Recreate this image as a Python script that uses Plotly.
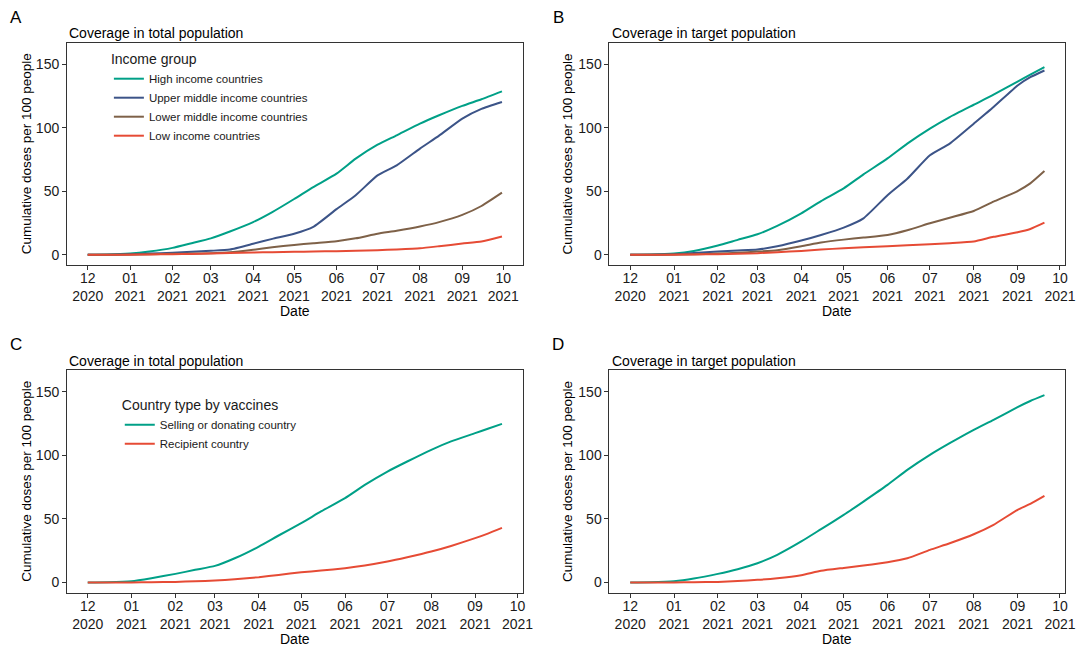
import plotly.graph_objects as go
import pandas as pd

# ---------------- data ----------------
dates_A = ["2020-12-01", "2020-12-15", "2021-01-01", "2021-01-15", "2021-02-01", "2021-02-15",
           "2021-03-01", "2021-03-15", "2021-04-01", "2021-04-15", "2021-05-01", "2021-05-15",
           "2021-06-01", "2021-06-15", "2021-07-01", "2021-07-15", "2021-08-01", "2021-08-15",
           "2021-09-01", "2021-09-15", "2021-09-30"]
dates_B = ["2020-12-01", "2020-12-15", "2021-01-01", "2021-01-15", "2021-02-01", "2021-02-15",
           "2021-03-01", "2021-03-15", "2021-04-01", "2021-04-15", "2021-05-01", "2021-05-15",
           "2021-06-01", "2021-06-15", "2021-07-01", "2021-07-15", "2021-08-01", "2021-08-15",
           "2021-09-01", "2021-09-10", "2021-09-20"]

income_groups = ["High income countries", "Upper middle income countries",
                 "Lower middle income countries", "Low income countries"]
vaccine_groups = ["Selling or donating country", "Recipient country"]

# Panel A: coverage in total population, by income group
A_high = [0, 0.2, 1.0, 2.6, 5.5, 9.2, 13.0, 18.4, 25.8, 33.7, 44.0, 53.4, 64.0, 75.8, 86.8, 94.2, 103.4, 110.0, 117.4, 122.6, 128.8]
A_upper = [0, 0.1, 0.5, 1.0, 1.6, 2.4, 3.2, 4.2, 8.7, 12.6, 16.6, 22.0, 36.0, 47.0, 62.6, 70.5, 83.7, 94.0, 107.4, 115.0, 120.5]
A_lower = [0, 0.05, 0.2, 0.5, 0.8, 1.0, 1.3, 2.0, 4.0, 6.0, 7.8, 9.2, 10.8, 13.0, 16.6, 19.0, 22.4, 25.8, 31.5, 38.5, 49.0]
A_low = [0, 0, 0.1, 0.3, 0.5, 0.7, 1.0, 1.4, 1.8, 2.1, 2.4, 2.6, 2.9, 3.2, 3.7, 4.3, 5.2, 6.8, 8.9, 10.5, 14.4]

# Panel B: coverage in target population, by income group
B_high = [0, 0.2, 1.0, 3.0, 7.3, 11.8, 16.2, 22.8, 32.7, 42.4, 52.4, 63.4, 76.0, 87.7, 99.5, 108.6, 118.3, 126.2, 136.6, 142.0, 148.0]
B_upper = [0, 0.1, 0.5, 1.4, 2.6, 3.4, 4.2, 6.8, 11.3, 15.7, 21.5, 28.8, 47.0, 60.0, 78.5, 87.7, 103.4, 116.5, 133.5, 140.0, 145.3]
B_lower = [0, 0.05, 0.2, 0.5, 1.0, 1.7, 2.6, 3.7, 6.8, 9.7, 12.0, 13.6, 15.7, 19.4, 24.9, 29.3, 34.6, 41.9, 50.3, 56.3, 66.0]
B_low = [0, 0, 0.1, 0.3, 0.5, 0.9, 1.3, 2.1, 3.1, 4.2, 5.2, 6.0, 6.8, 7.6, 8.4, 9.2, 10.5, 14.2, 17.8, 20.4, 25.4]

# Panel C: coverage in total population, by country type
C_sell = [0, 0.2, 1.0, 3.4, 6.8, 10.0, 13.1, 19.1, 28.3, 37.0, 46.7, 55.9, 66.4, 76.8, 87.3, 95.2, 104.4, 111.0, 117.5, 121.0, 124.8]
C_recip = [0, 0, 0.1, 0.3, 0.5, 1.0, 1.6, 2.6, 4.2, 6.0, 8.1, 9.4, 11.3, 13.4, 16.5, 19.9, 24.4, 28.8, 34.9, 38.5, 43.0]

# Panel D: coverage in target population, by country type
D_sell = [0, 0.2, 1.0, 3.1, 6.8, 10.5, 15.2, 21.8, 32.3, 42.0, 53.2, 63.7, 76.8, 88.6, 100.4, 109.6, 120.1, 128.0, 138.0, 142.8, 147.4]
D_recip = [0, 0, 0.1, 0.3, 0.5, 1.2, 2.1, 3.4, 5.8, 9.2, 11.5, 13.4, 16.0, 19.1, 25.7, 30.9, 38.0, 45.4, 57.2, 61.9, 68.2]

tick_dates = ["2020-12-01", "2021-01-01", "2021-02-01", "2021-03-01", "2021-04-01", "2021-05-01",
              "2021-06-01", "2021-07-01", "2021-08-01", "2021-09-01", "2021-10-01"]
tick_text = ["12<br>2020", "01<br>2021", "02<br>2021", "03<br>2021", "04<br>2021", "05<br>2021",
             "06<br>2021", "07<br>2021", "08<br>2021", "09<br>2021", "10<br>2021"]
y_ticks = [0, 50, 100, 150]

income_colors = ["#00A087", "#3C5488", "#7E6148", "#E64B35"]
vaccine_colors = ["#00A087", "#E64B35"]

# ---------------- layout helpers ----------------
W, H = 1091, 647
FONT = "Liberation Sans, Arial, sans-serif"

def px(v):
    return v / W

def py(v):
    return 1 - v / H

def xrange_for(dates):
    s, e = pd.Timestamp(dates[0]), pd.Timestamp(dates[-1])
    pad = (e - s) * 0.05
    return [(s - pad).strftime("%Y-%m-%d %H:%M"), (e + pad).strftime("%Y-%m-%d %H:%M")]

# box positions (pixels)
boxes = {
    "A": dict(x0=67.7, x1=528.0, y0=42.7, y1=265.0),
    "B": dict(x0=615.7, x1=1076.0, y0=42.7, y1=265.0),
    "C": dict(x0=67.7, x1=528.0, y0=370.0, y1=592.7),
    "D": dict(x0=615.7, x1=1076.0, y0=370.0, y1=592.7),
}

fig = go.Figure()

def add(ax, dates, ys, name, color, legend, show):
    fig.add_trace(go.Scatter(
        x=dates, y=ys, mode="lines", name=name,
        line=dict(color=color, width=2, shape="spline", smoothing=0.5),
        xaxis="x" + ax, yaxis="y" + ax,
        legend=legend, showlegend=show,
    ))

for name, ys, col in zip(income_groups, [A_high, A_upper, A_lower, A_low], income_colors):
    add("", dates_A, ys, name, col, "legend", True)
for name, ys, col in zip(income_groups, [B_high, B_upper, B_lower, B_low], income_colors):
    add("2", dates_B, ys, name, col, "legend", False)
for name, ys, col in zip(vaccine_groups, [C_sell, C_recip], vaccine_colors):
    add("3", dates_B, ys, name, col, "legend2", True)
for name, ys, col in zip(vaccine_groups, [D_sell, D_recip], vaccine_colors):
    add("4", dates_B, ys, name, col, "legend2", False)

axis_common = dict(
    showline=True, linecolor="#333333", linewidth=1, mirror=True,
    showgrid=False, zeroline=False,
    ticks="outside", ticklen=4, tickwidth=1, tickcolor="#333333",
    tickfont=dict(family=FONT, size=14, color="#1a1a1a"),
)

layout = dict(
    width=W, height=H, margin=dict(l=0, r=0, t=0, b=0),
    paper_bgcolor="white", plot_bgcolor="white",
    font=dict(family=FONT, color="#1a1a1a"),
)

panel_keys = ["A", "B", "C", "D"]
xr = {"A": xrange_for(dates_A), "B": xrange_for(dates_B), "C": xrange_for(dates_B), "D": xrange_for(dates_B)}
for i, k in enumerate(panel_keys):
    b = boxes[k]
    sfx = "" if i == 0 else str(i + 1)
    layout["xaxis" + sfx] = dict(
        axis_common, domain=[px(b["x0"]), px(b["x1"])], type="date",
        range=xr[k], tickmode="array", tickvals=tick_dates, ticktext=tick_text,
        anchor="y" + sfx, ticklabelstandoff=-4,
    )
    layout["yaxis" + sfx] = dict(
        axis_common, domain=[py(b["y1"]), py(b["y0"])], range=[-8, 167.2],
        tickmode="array", tickvals=y_ticks, ticktext=[str(v) for v in y_ticks],
        anchor="x" + sfx,
    )

layout["legend"] = dict(
    x=px(110), y=py(46), xanchor="left", yanchor="top",
    title=dict(text="Income group", font=dict(family=FONT, size=14, color="#1a1a1a")),
    font=dict(family=FONT, size=11.5, color="#1a1a1a"),
    bgcolor="rgba(0,0,0,0)", tracegroupgap=0,
)
layout["legend2"] = dict(
    x=px(121), y=py(392), xanchor="left", yanchor="top",
    title=dict(text="Country type by vaccines", font=dict(family=FONT, size=14, color="#1a1a1a")),
    font=dict(family=FONT, size=11.5, color="#1a1a1a"),
    bgcolor="rgba(0,0,0,0)", tracegroupgap=0,
)

fig.update_layout(**layout)

annotations = []
letters = {"A": (16, 17), "B": (564, 17), "C": (16, 344), "D": (564, 344)}
titles = {"A": "Coverage in total population", "B": "Coverage in target population",
          "C": "Coverage in total population", "D": "Coverage in target population"}
ytitle_x = {"A": 26.7, "B": 573.5, "C": 26.7, "D": 573.5}
for k in panel_keys:
    b = boxes[k]
    lx, ly = letters[k]
    annotations.append(dict(text=k, x=px(lx), y=py(ly), xref="paper", yref="paper",
                            xanchor="center", yanchor="middle", showarrow=False,
                            font=dict(family=FONT, size=17, color="#000000")))
    annotations.append(dict(text=titles[k], x=px(b["x0"] + 0.3), y=py(b["y0"] - 9.5),
                            xref="paper", yref="paper", xanchor="left", yanchor="middle",
                            showarrow=False, font=dict(family=FONT, size=14, color="#000000")))
    annotations.append(dict(text="Cumulative doses per 100 people", x=px(ytitle_x[k]),
                            y=py((b["y0"] + b["y1"]) / 2), xref="paper", yref="paper",
                            xanchor="center", yanchor="middle", textangle=-90, showarrow=False,
                            font=dict(family=FONT, size=13.5, color="#000000")))
    annotations.append(dict(text="Date", x=px((b["x0"] + b["x1"]) / 2), y=py(b["y1"] + 46),
                            xref="paper", yref="paper", xanchor="center", yanchor="middle",
                            showarrow=False, font=dict(family=FONT, size=14, color="#000000")))
fig.update_layout(annotations=annotations)

fig.write_html(
    "out.html",
    config={"displayModeBar": False},
    post_script="document.body.style.margin='0';document.body.style.padding='0';",
)
